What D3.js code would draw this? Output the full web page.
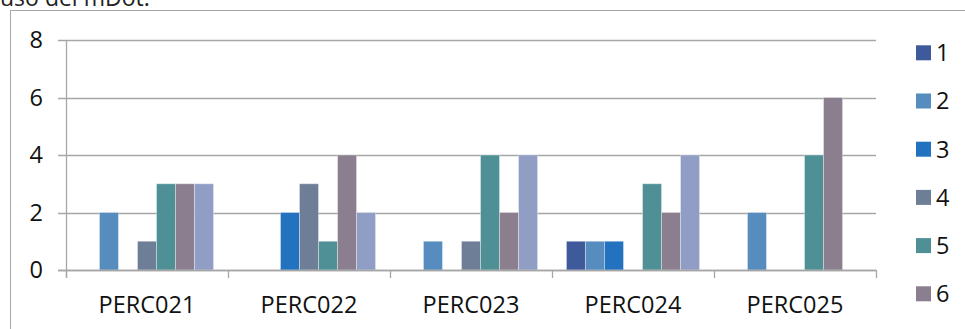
<!DOCTYPE html>
<html><head><meta charset="utf-8">
<script src="https://cdn.jsdelivr.net/npm/d3@7"></script>
<style>html,body{margin:0;padding:0;background:#fff;overflow:hidden}</style>
</head><body>
<script>
const categories = ["PERC021","PERC022","PERC023","PERC024","PERC025"];
const seriesNames = ["1","2","3","4","5","6","7"];
const s1 = [0,0,0,1,0];
const s2 = [2,0,1,1,2];
const s3 = [0,2,0,1,0];
const s4 = [1,3,1,0,0];
const s5 = [3,1,4,3,4];
const s6 = [3,4,2,2,6];
const s7 = [3,2,4,4,0];
const seriesValues = [s1,s2,s3,s4,s5,s6,s7];
const colors = ["#3F5A9A","#568CBE","#2372C0","#6E7E96","#4F9097","#8B7E8E","#909DC4"];
const yTicks = [0,2,4,6,8];

(function(){
const W = 965, H = 329;
const svg = d3.select("body").append("svg").attr("width", W).attr("height", H);
const font = "'Open Sans', sans-serif";
const fs = 23.5;

svg.append("text").attr("x", 0).attr("y", 6).attr("font-family", font).attr("font-size", 23)
  .attr("fill", "#222").text("uso del mDot.");
svg.append("rect").attr("x", 10.5).attr("y", 10.5).attr("width", 1000).attr("height", 400)
  .attr("fill", "none").attr("stroke", "#a6a6a6").attr("stroke-width", 1);

const mLeft = 66, mRight = 876, mTop = 40, mBottom = 270;
const x0 = d3.scaleBand().domain(categories).range([mLeft, mRight]).paddingInner(0).paddingOuter(0);
const x1 = d3.scaleBand().domain(seriesNames).range([0, x0.bandwidth()]).paddingInner(0).paddingOuter(0.76);
const y = d3.scaleLinear().domain([0, 8]).range([mBottom, mTop]);

svg.append("g").selectAll("line").data(yTicks).join("line")
  .attr("x1", mLeft - 8).attr("x2", mRight).attr("y1", d => Math.round(y(d)) + 0.5).attr("y2", d => Math.round(y(d)) + 0.5)
  .attr("stroke", "#a6a6a6").attr("stroke-width", 1.3);
svg.append("g").selectAll("text").data(yTicks).join("text")
  .attr("x", 43).attr("y", d => y(d)).attr("dy", "0.36em").attr("text-anchor", "end")
  .attr("font-family", font).attr("font-size", fs).attr("fill", "#111").text(d => d);

const groups = svg.append("g").selectAll("g").data(categories).join("g")
  .attr("transform", c => `translate(${x0(c)},0)`);
groups.selectAll("rect").data((c, i) => seriesValues.map((s, k) => ({k, v: s[i]})).filter(d => d.v > 0)).join("rect")
  .attr("x", d => x1(seriesNames[d.k])).attr("width", x1.bandwidth())
  .attr("y", d => y(d.v)).attr("height", d => y(0) - y(d.v))
  .attr("fill", d => colors[d.k]).attr("stroke", "rgba(255,255,255,0.35)").attr("stroke-width", 1);

svg.append("line").attr("x1", mLeft + 0.5).attr("x2", mLeft + 0.5).attr("y1", mTop).attr("y2", mBottom + 8)
  .attr("stroke", "#a6a6a6").attr("stroke-width", 1.3);
svg.append("line").attr("x1", mLeft - 8).attr("x2", mRight).attr("y1", Math.round(y(0)) + 0.5).attr("y2", Math.round(y(0)) + 0.5)
  .attr("stroke", "#a6a6a6").attr("stroke-width", 1.3);
const bounds = categories.map(c => x0(c)).concat([mRight]);
svg.append("g").selectAll("line").data(bounds).join("line")
  .attr("x1", d => Math.round(d) + 0.5).attr("x2", d => Math.round(d) + 0.5).attr("y1", mBottom).attr("y2", mBottom + 8)
  .attr("stroke", "#a6a6a6").attr("stroke-width", 1.3);
svg.append("g").selectAll("text").data(categories).join("text")
  .attr("x", c => x0(c) + x0.bandwidth() / 2).attr("y", 312.5).attr("text-anchor", "middle")
  .attr("font-family", font).attr("font-size", fs).attr("fill", "#111").text(c => c);

const leg = svg.append("g").selectAll("g").data(seriesNames).join("g")
  .attr("transform", (d, i) => `translate(916,${52.8 + i * 48.2})`);
leg.append("rect").attr("x", 0).attr("y", -7.5).attr("width", 15).attr("height", 15).attr("fill", (d, i) => colors[i]);
leg.append("text").attr("x", 20).attr("y", 0).attr("dy", "0.36em").attr("font-family", font).attr("font-size", fs)
  .attr("fill", "#111").text(d => d);
})();
</script>
</body></html>
